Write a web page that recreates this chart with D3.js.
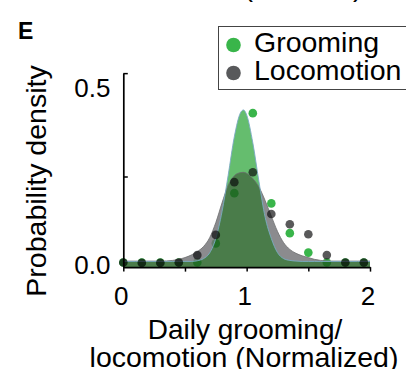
<!DOCTYPE html>
<html>
<head>
<meta charset="utf-8">
<script src="https://cdn.jsdelivr.net/npm/d3@7"></script>
<style>
  body { margin: 0; background: #fff; }
  svg { display: block; font-family: "Liberation Sans", Arial, sans-serif; }
</style>
</head>
<body>
<script>
// bin centres of the histogram dots
var binX = [0, 0.15, 0.30, 0.45, 0.60, 0.75, 0.90, 1.05, 1.20, 1.35, 1.50, 1.65, 1.80, 1.95];
var groomingDots = [0.007, 0.007, 0.007, 0.007, 0.007, 0.061, 0.203, 0.429, 0.174, 0.090, 0.035, 0.007, 0.007, 0.007];
var locomotionDots = [0.007, 0.006, 0.006, 0.007, 0.028, 0.085, 0.234, 0.262, 0.144, 0.115, 0.087, 0.028, 0.007, 0.007];

// fitted curves
var curveX = [0, 0.1, 0.2, 0.3, 0.4, 0.45, 0.5, 0.55, 0.6, 0.65, 0.7, 0.75, 0.8, 0.85, 0.9, 0.95, 0.975,
  1.0, 1.05, 1.1, 1.15, 1.2, 1.25, 1.3, 1.35, 1.4, 1.45, 1.5, 1.55, 1.6, 1.7, 1.8, 1.9, 2.0];
var groomingFit = [0.01, 0.01, 0.01, 0.01, 0.01, 0.01, 0.01, 0.01, 0.012, 0.018, 0.034, 0.075, 0.15, 0.253, 0.362, 0.43, 0.438,
  0.424, 0.345, 0.235, 0.135, 0.075, 0.035, 0.018, 0.013, 0.011, 0.01, 0.01, 0.01, 0.01, 0.01, 0.01, 0.01, 0.01];
var locomotionFit = [0.011, 0.011, 0.011, 0.011, 0.013, 0.016, 0.021, 0.028, 0.038, 0.052, 0.077, 0.12, 0.175, 0.225, 0.252, 0.261, 0.262,
  0.259, 0.244, 0.22, 0.182, 0.138, 0.095, 0.063, 0.044, 0.033, 0.026, 0.021, 0.016, 0.013, 0.011, 0.011, 0.011, 0.011];

var xTicks = [0, 0.5, 1, 1.5, 2];
var xLabels = [0, 1, 2];
var yLabels = [0, 0.5];
var yMinor = [0.25];
var legendNames = ["Grooming", "Locomotion"];

var width = 406, height = 369;
var green = "#39b54a", dotGray = "rgba(10,10,12,0.68)";

var svg = d3.select("body").append("svg")
  .attr("width", width)
  .attr("height", height);

var x = d3.scaleLinear().domain([0, 2]).range([123.3, 370]);
var y = d3.scaleLinear().domain([0, 0.5]).range([265, 88]);
var yBottom = -0.006, yTop = 0.542;

var pts = function(vals) { return curveX.map(function(d, i) { return [d, vals[i]]; }); };

var area = d3.area()
  .x(function(d) { return x(d[0]); })
  .y0(y(yBottom))
  .y1(function(d) { return y(d[1]); })
  .curve(d3.curveMonotoneX);
var line = d3.line()
  .x(function(d) { return x(d[0]); })
  .y(function(d) { return y(d[1]); })
  .curve(d3.curveMonotoneX);

// clipped part of the previous panel's axis title
svg.append("text")
  .attr("x", 303).attr("y", -4)
  .attr("text-anchor", "middle")
  .attr("font-size", 28.5)
  .text("(minutes)");

svg.append("text")
  .attr("x", 18).attr("y", 38.5)
  .attr("font-size", 23).attr("font-weight", "bold")
  .text("E");

// green dots sit under the filled fits
svg.append("g").selectAll("circle")
  .data(binX).enter().append("circle")
  .attr("cx", function(d) { return x(d); })
  .attr("cy", function(d, i) { return y(groomingDots[i]); })
  .attr("r", 4.3)
  .attr("fill", green);

var defs = svg.append("defs");
defs.append("clipPath").attr("id", "locoClip")
  .append("path").attr("d", area(pts(locomotionFit)));

var fills = svg.append("g").attr("opacity", 0.8);
fills.append("path").attr("d", area(pts(locomotionFit))).attr("fill", "#6f6f72");
fills.append("path").attr("d", area(pts(groomingFit))).attr("fill", "#3fad4b");
fills.append("path").attr("d", area(pts(groomingFit))).attr("fill", "#1d5c1e")
  .attr("clip-path", "url(#locoClip)");

svg.append("path").attr("d", line(pts(locomotionFit)))
  .attr("fill", "none").attr("stroke", "#6d6e70").attr("stroke-width", 0.8);
svg.append("path").attr("d", line(pts(groomingFit)))
  .attr("fill", "none").attr("stroke", "#7aa9c4").attr("stroke-width", 0.9);

svg.append("g").selectAll("circle")
  .data(binX).enter().append("circle")
  .attr("cx", function(d) { return x(d); })
  .attr("cy", function(d, i) { return y(locomotionDots[i]); })
  .attr("r", 4.3)
  .attr("fill", dotGray);

// x axis
var xAxis = svg.append("g")
  .attr("transform", "translate(0," + y(yBottom) + ")")
  .call(d3.axisBottom(x).tickValues(xTicks).tickSize(4.5).tickSizeOuter(0).tickFormat(""));
xAxis.select(".domain").attr("stroke-width", 1.7);
xAxis.selectAll(".tick line").attr("stroke-width", 1.5);

svg.append("g").selectAll("text")
  .data(xLabels).enter().append("text")
  .attr("x", function(d) { return x(d) - 2; })
  .attr("y", 305)
  .attr("text-anchor", "middle")
  .attr("font-size", 26)
  .text(function(d) { return d; });

// y axis: line with inward ticks at the cap and the minor value
var yAxisScale = y.copy().domain([yBottom, yTop]).range([y(yBottom), y(yTop)]);
var yAxis = svg.append("g")
  .attr("transform", "translate(" + x(0) + ",0)")
  .call(d3.axisRight(yAxisScale).tickValues(yMinor.concat([yTop])).tickSize(4.5).tickSizeOuter(0).tickFormat(""));
yAxis.select(".domain").attr("stroke-width", 1.7);
yAxis.selectAll(".tick line").attr("stroke-width", 1.5);

svg.append("g").selectAll("text")
  .data(yLabels).enter().append("text")
  .attr("x", 110.5)
  .attr("y", function(d) { return y(d) + 9.3; })
  .attr("text-anchor", "end")
  .attr("font-size", 26)
  .text(function(d) { return d3.format(".1f")(d); });

svg.append("text")
  .attr("transform", "translate(46,181) rotate(-90)")
  .attr("text-anchor", "middle")
  .attr("font-size", 28.5)
  .text("Probability density");

svg.append("text")
  .attr("x", 245).attr("y", 338.5)
  .attr("text-anchor", "middle")
  .attr("font-size", 28)
  .text("Daily grooming/");
svg.append("text")
  .attr("x", 244).attr("y", 366.5)
  .attr("text-anchor", "middle")
  .attr("font-size", 28.5)
  .text("locomotion (Normalized)");

// legend
var legend = svg.append("g");
legend.append("rect")
  .attr("x", 218.5).attr("y", 26.5)
  .attr("width", 200).attr("height", 63)
  .attr("fill", "#fff").attr("stroke", "#444").attr("stroke-width", 1);
var legendColors = [green, "#58595b"];
legendNames.forEach(function(name, i) {
  legend.append("circle")
    .attr("cx", 233.5).attr("cy", 45 + i * 28)
    .attr("r", 7.3)
    .attr("fill", legendColors[i]);
  legend.append("text")
    .attr("x", 254).attr("y", 51.5 + i * 28.5)
    .attr("font-size", 28.5)
    .text(name);
});
</script>
</body>
</html>
